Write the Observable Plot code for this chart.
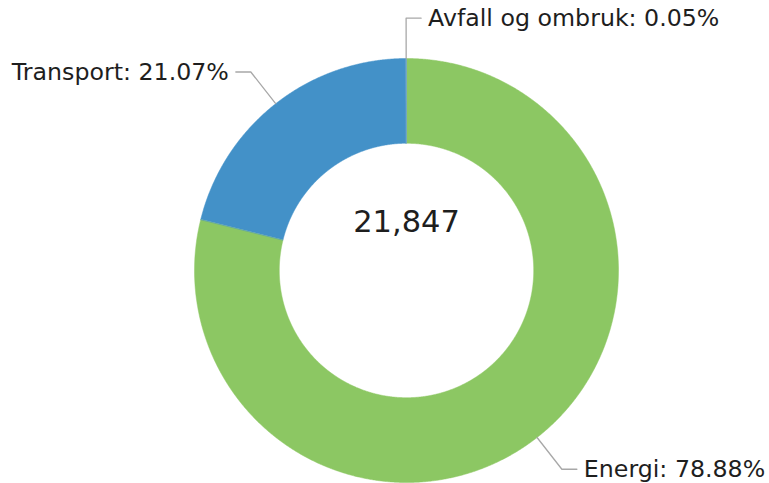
<!DOCTYPE html>
<html>
<head>
<meta charset="utf-8">
<script src="https://cdn.jsdelivr.net/npm/d3@7"></script>
<script src="https://cdn.jsdelivr.net/npm/@observablehq/plot@0.6"></script>
<style>
  html, body { margin: 0; padding: 0; background: #fff; }
</style>
</head>
<body>
<div id="chart"></div>
<script>
// ---- data ----
const categories = ["Energi", "Transport", "Avfall og ombruk"];
const shares = [78.88, 21.07, 0.05];
const colors = ["#8cc763", "#4391c8", "#6a9fc4"];
const totalValue = 21847;

// ---- geometry (unit: outer radius = 1) ----
const W = 769, H = 483;
const cx = 406, cy = 270, R = 212;
const innerRatio = 0.6;
const elbowRatio = 1.19;
const tail = 15 / R;

const pie = d3.pie().sort(null).value(d => d)(shares);

const arcPts = [];
pie.forEach((p, i) => {
  const name = categories[i];
  const n = Math.max(2, Math.ceil((p.endAngle - p.startAngle) / 0.005));
  for (let k = 0; k <= n; k++) {
    const a = p.startAngle + (p.endAngle - p.startAngle) * k / n;
    arcPts.push({name, x: Math.sin(a), y: Math.cos(a)});
  }
  for (let k = n; k >= 0; k--) {
    const a = p.startAngle + (p.endAngle - p.startAngle) * k / n;
    arcPts.push({name, x: innerRatio * Math.sin(a), y: innerRatio * Math.cos(a)});
  }
});

const connectors = [];
const labels = [];
pie.forEach((p, i) => {
  const name = categories[i];
  const a = (p.startAngle + p.endAngle) / 2;
  const ex = elbowRatio * Math.sin(a), ey = elbowRatio * Math.cos(a);
  const right = ex >= -0.01;
  const tx = ex + (right ? tail : -tail);
  connectors.push({name, x: Math.sin(a), y: Math.cos(a)});
  connectors.push({name, x: ex, y: ey});
  connectors.push({name, x: tx, y: ey});
  labels.push({name, share: shares[i], x: tx, y: ey, right});
});

const fmtLabel = d => `${d.name}: ${d.share.toFixed(2)}%`;

const plot = Plot.plot({
  width: W,
  height: H,
  margin: 0,
  x: {domain: [-cx / R, (W - cx) / R], axis: null},
  y: {domain: [-(H - cy) / R, cy / R], axis: null},
  color: {domain: categories, range: colors},
  style: {fontFamily: "'DejaVu Sans', Verdana, sans-serif", background: "#fff", overflow: "visible"},
  marks: [
    Plot.line(arcPts, {x: "x", y: "y", z: "name", fill: "name", stroke: "name", strokeWidth: 0.5, curve: "linear-closed"}),
    Plot.line(connectors, {x: "x", y: "y", z: "name", stroke: "#a8a8a8", strokeWidth: 1.3}),
    Plot.text(labels.filter(d => d.right), {x: "x", y: "y", text: fmtLabel, textAnchor: "start", dx: 7, fontSize: 23.7, fill: "#1e1e1e"}),
    Plot.text(labels.filter(d => !d.right), {x: "x", y: "y", text: fmtLabel, textAnchor: "end", dx: -7, fontSize: 23.7, fill: "#1e1e1e"}),
    Plot.text([totalValue], {x: () => 0, y: () => 48 / R, text: d => d3.format(",")(d), fontSize: 30.5, fill: "#1e1e1e"})
  ]
});
document.getElementById("chart").appendChild(plot);
</script>
</body>
</html>
